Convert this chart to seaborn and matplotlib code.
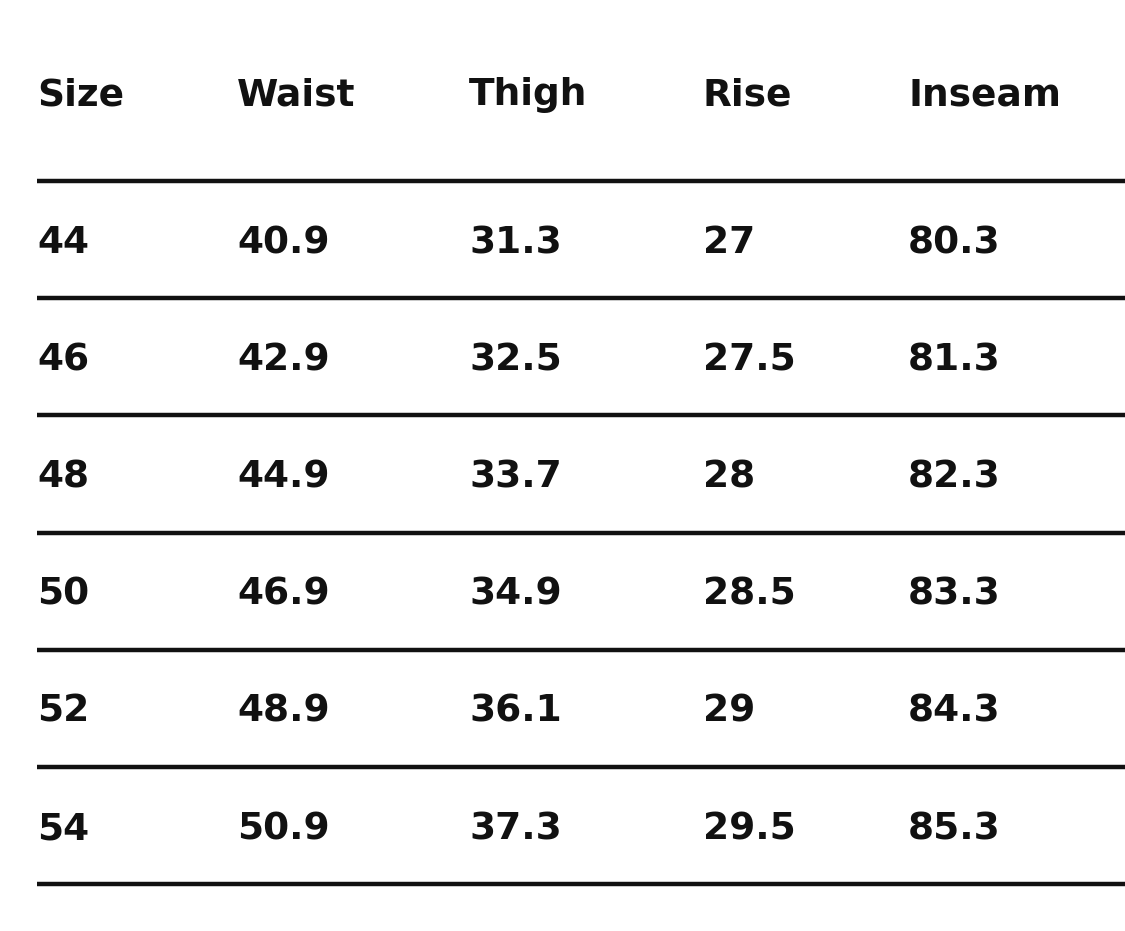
import matplotlib
matplotlib.use("Agg")
import matplotlib.pyplot as plt
import seaborn as sns

sns.set_style("white")
plt.rcParams['font.family'] = ['DejaVu Sans']

headers = ["Size", "Waist", "Thigh", "Rise", "Inseam"]
sizes = ["44", "46", "48", "50", "52", "54"]
waist = ["40.9", "42.9", "44.9", "46.9", "48.9", "50.9"]
thigh = ["31.3", "32.5", "33.7", "34.9", "36.1", "37.3"]
rise = ["27", "27.5", "28", "28.5", "29", "29.5"]
inseam = ["80.3", "81.3", "82.3", "83.3", "84.3", "85.3"]

cols = [sizes, waist, thigh, rise, inseam]
col_x = [37, 237, 469, 703, 908]
header_y = 95
first_line = 181
row_h = 117.2

fig = plt.figure(figsize=(11.25, 9.31), dpi=100)
ax = fig.add_axes([0, 0, 1, 1])
ax.set_xlim(0, 1125)
ax.set_ylim(931, 0)
ax.axis("off")

for x, h in zip(col_x, headers):
    ax.text(x, header_y, h, fontsize=27, fontweight="bold", va="center", ha="left", color="#111111")

for i in range(len(sizes) + 1):
    y = first_line + i * row_h
    ax.plot([37, 1125], [y, y], color="#111111", lw=3.2, solid_capstyle="butt")

for i in range(len(sizes)):
    y = first_line + (i + 0.53) * row_h
    for x, c in zip(col_x, cols):
        ax.text(x, y, c[i], fontsize=27, fontweight="bold", va="center", ha="left", color="#111111")

fig.savefig("out.png", dpi=100, facecolor="white")
